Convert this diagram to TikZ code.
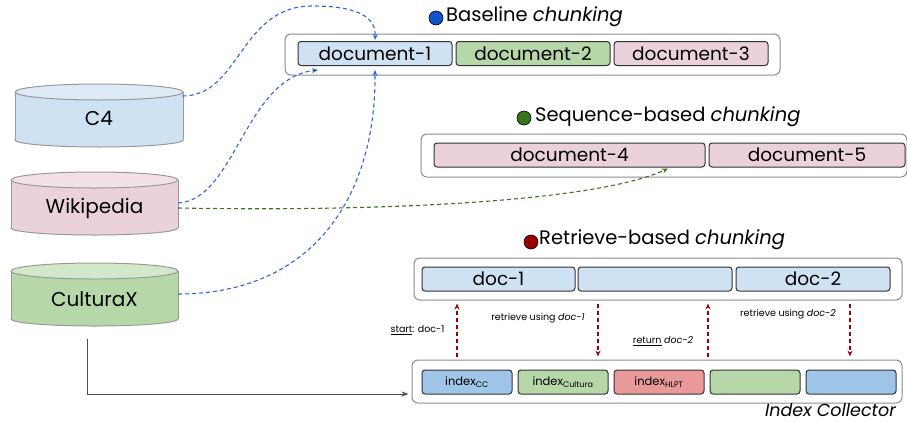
\documentclass[tikz,border=0pt]{standalone}
\usepackage{fontspec}
\setmainfont{Poppins}
\usetikzlibrary{arrows.meta}
\definecolor{lblue}{HTML}{CFE2F3}
\definecolor{lgreen}{HTML}{B6D7A8}
\definecolor{lpink}{HTML}{EAD1DC}
\definecolor{tblue}{HTML}{DEEBF7}
\definecolor{tgreen}{HTML}{D3E7CB}
\definecolor{tpink}{HTML}{F2E1E8}
\definecolor{mblue}{HTML}{9FC5E8}
\definecolor{lred}{HTML}{EA9999}
\definecolor{dotblue}{HTML}{1155CC}
\definecolor{dotgreen}{HTML}{38761D}
\definecolor{dotred}{HTML}{990000}
\definecolor{arrblue}{HTML}{2B66D9}
\definecolor{cylborder}{HTML}{999999}
\newcommand\dbcyl[6]{%
 \filldraw[fill=#5, draw=cylborder, line width=1pt] (#1,#4) ellipse[x radius=#2, y radius=7];
 \fill[#5] (#1-#2,#3) rectangle (#1+#2,#4);
 \draw[cylborder, line width=1pt] (#1-#2,#3) -- (#1-#2,#4) (#1+#2,#3) -- (#1+#2,#4);
 \filldraw[fill=#6, draw=cylborder, line width=1pt] (#1,#3) ellipse[x radius=#2, y radius=8];}
\tikzset{
 outerbox/.style={draw=black!45, line width=1pt, rounded corners=6pt, inner sep=0pt},
 innerbox/.style={draw=black!80, line width=1pt, rounded corners=3pt, minimum height=24pt, inner sep=0pt, font=\fontsize{18.5}{20}\selectfont},
 idxbox/.style={draw=black!80, line width=1pt, rounded corners=3pt, minimum height=24pt, minimum width=90pt, inner sep=0pt, font=\fontsize{11.5}{13}\selectfont},
 title/.style={anchor=west, inner sep=0pt, font=\fontsize{19.5}{22}\selectfont},
 dotnode/.style={circle, draw=black, line width=0.6pt, minimum size=14pt, inner sep=0pt},
 cyltext/.style={minimum width=167pt, minimum height=48pt, inner sep=0pt, font=\fontsize{20}{22}\selectfont},
 small/.style={inner sep=0pt, font=\fontsize{9.5}{11}\selectfont},
 bluedash/.style={draw=arrblue, line width=1.1pt, dash pattern=on 4pt off 3pt, -{Stealth[length=6pt,width=5pt]}},
 greendash/.style={draw=dotgreen, line width=1.1pt, dash pattern=on 4pt off 3pt, -{Stealth[length=6pt,width=5pt]}},
 reddash/.style={draw=dotred, line width=1.1pt, dash pattern=on 4pt off 3pt, -{Stealth[length=6pt,width=5pt]}},
 grayarrow/.style={draw=black!70, line width=1pt, -{Stealth[length=7pt,width=5pt]}}
}
\begin{document}
\begin{tikzpicture}[x=1pt,y=-1pt]
\useasboundingbox (0,0) rectangle (907,421);
% cylinders
\dbcyl{99}{84}{92}{140}{lblue}{tblue}
\dbcyl{94.5}{83.5}{180}{228}{lpink}{tpink}
\dbcyl{94.5}{83.5}{271}{319}{lgreen}{tgreen}
\node[cyltext] (c4) at (99,118) {C4};
\node[cyltext] (wiki) at (94.5,208) {Wikipedia};
\node[cyltext] (cx) at (94.5,299) {CulturaX};
% Baseline
\node[dotnode, fill=dotblue] (dot1) at (436,18) {};
\node[title] (t1) at (446,17) {Baseline \textit{chunking}};
\node[outerbox, minimum width=495pt, minimum height=41pt] (base) at (532.5,54.5) {};
\node[innerbox, fill=lblue, minimum width=154pt] (d1) at (375,53.5) {document-1};
\node[innerbox, fill=lgreen, minimum width=154pt] (d2) at (533,53.5) {document-2};
\node[innerbox, fill=lpink, minimum width=154pt] (d3) at (691,53.5) {document-3};
% Sequence
\node[dotnode, fill=dotgreen] (dot2) at (524,118) {};
\node[title] (t2) at (535,117) {Sequence-based \textit{chunking}};
\node[outerbox, minimum width=486pt, minimum height=43pt] (seq) at (664,155.5) {};
\node[innerbox, fill=lpink, minimum width=271pt] (d4) at (569.5,155) {document-4};
\node[innerbox, fill=lpink, minimum width=196pt] (d5) at (807,155) {document-5};
% Retrieve
\node[dotnode, fill=dotred] (dot3) at (531,242) {};
\node[title] (t3) at (539,240) {Retrieve-based \textit{chunking}};
\node[outerbox, minimum width=488pt, minimum height=42pt] (ret) at (658,279) {};
\node[innerbox, fill=lblue, minimum width=153pt] (r1) at (498.5,279) {doc-1};
\node[innerbox, fill=lblue, minimum width=154pt] (r2) at (655,279) {};
\node[innerbox, fill=lblue, minimum width=154pt] (r3) at (813,279) {doc-2};
% Index collector
\node[outerbox, minimum width=490pt, minimum height=43pt] (idx) at (657,381.5) {};
\node[idxbox, fill=mblue] (i1) at (467,382) {index\textsubscript{CC}};
\node[idxbox, fill=lgreen] (i2) at (563,382) {index\textsubscript{Cultura}};
\node[idxbox, fill=lred] (i3) at (659,382) {index\textsubscript{HLPT}};
\node[idxbox, fill=lgreen] (i4) at (755,382) {};
\node[idxbox, fill=mblue] (i5) at (851,382) {};
\node[inner sep=0pt, anchor=base east, font=\fontsize{17.5}{19}\selectfont\itshape] (ic) at (896,416) {Index Collector};
% labels
\node[small] (l1) at (417.5,330) {\underline{start}: doc-1};
\node[small] (l2) at (538,318) {retrieve using \textit{doc-1}};
\node[small] (l3) at (663,341) {\underline{return} \textit{doc-2}};
\node[small] (l4) at (788,314) {retrieve using \textit{doc-2}};
% red arrows
\draw[reddash] ([yshift=3pt]idx.north -| 457,0) -- ([yshift=-3pt]ret.south -| 457,0);
\draw[reddash] ([yshift=-3pt]ret.south -| 598,0) -- ([yshift=3pt]idx.north -| 598,0);
\draw[reddash] ([yshift=3pt]idx.north -| 708,0) -- ([yshift=-3pt]ret.south -| 708,0);
\draw[reddash] ([yshift=-3pt]ret.south -| 850,0) -- ([yshift=3pt]idx.north -| 850,0);
% blue arrows
\draw[bluedash] ([yshift=22pt]c4.east) .. controls (240,96) and (240,6) .. (312,6) .. controls (360,6) and (376,18) .. ([yshift=1pt]d1.north);
\draw[bluedash] ([yshift=5pt]wiki.east) .. controls (235,200) and (245,78) .. (318,70);
\draw[bluedash] ([yshift=5pt]cx.east) .. controls (310,294) and (376,200) .. ([yshift=-4pt]d1.south);
% green arrow
\draw[greendash] (wiki.east) .. controls (400,212) and (600,200) .. ([yshift=-1pt]d4.south -| 668,0);
% gray arrow
\draw[grayarrow] (87,339) |- ([xshift=-3pt]idx.west |- 0,394);
\end{tikzpicture}
\end{document}
